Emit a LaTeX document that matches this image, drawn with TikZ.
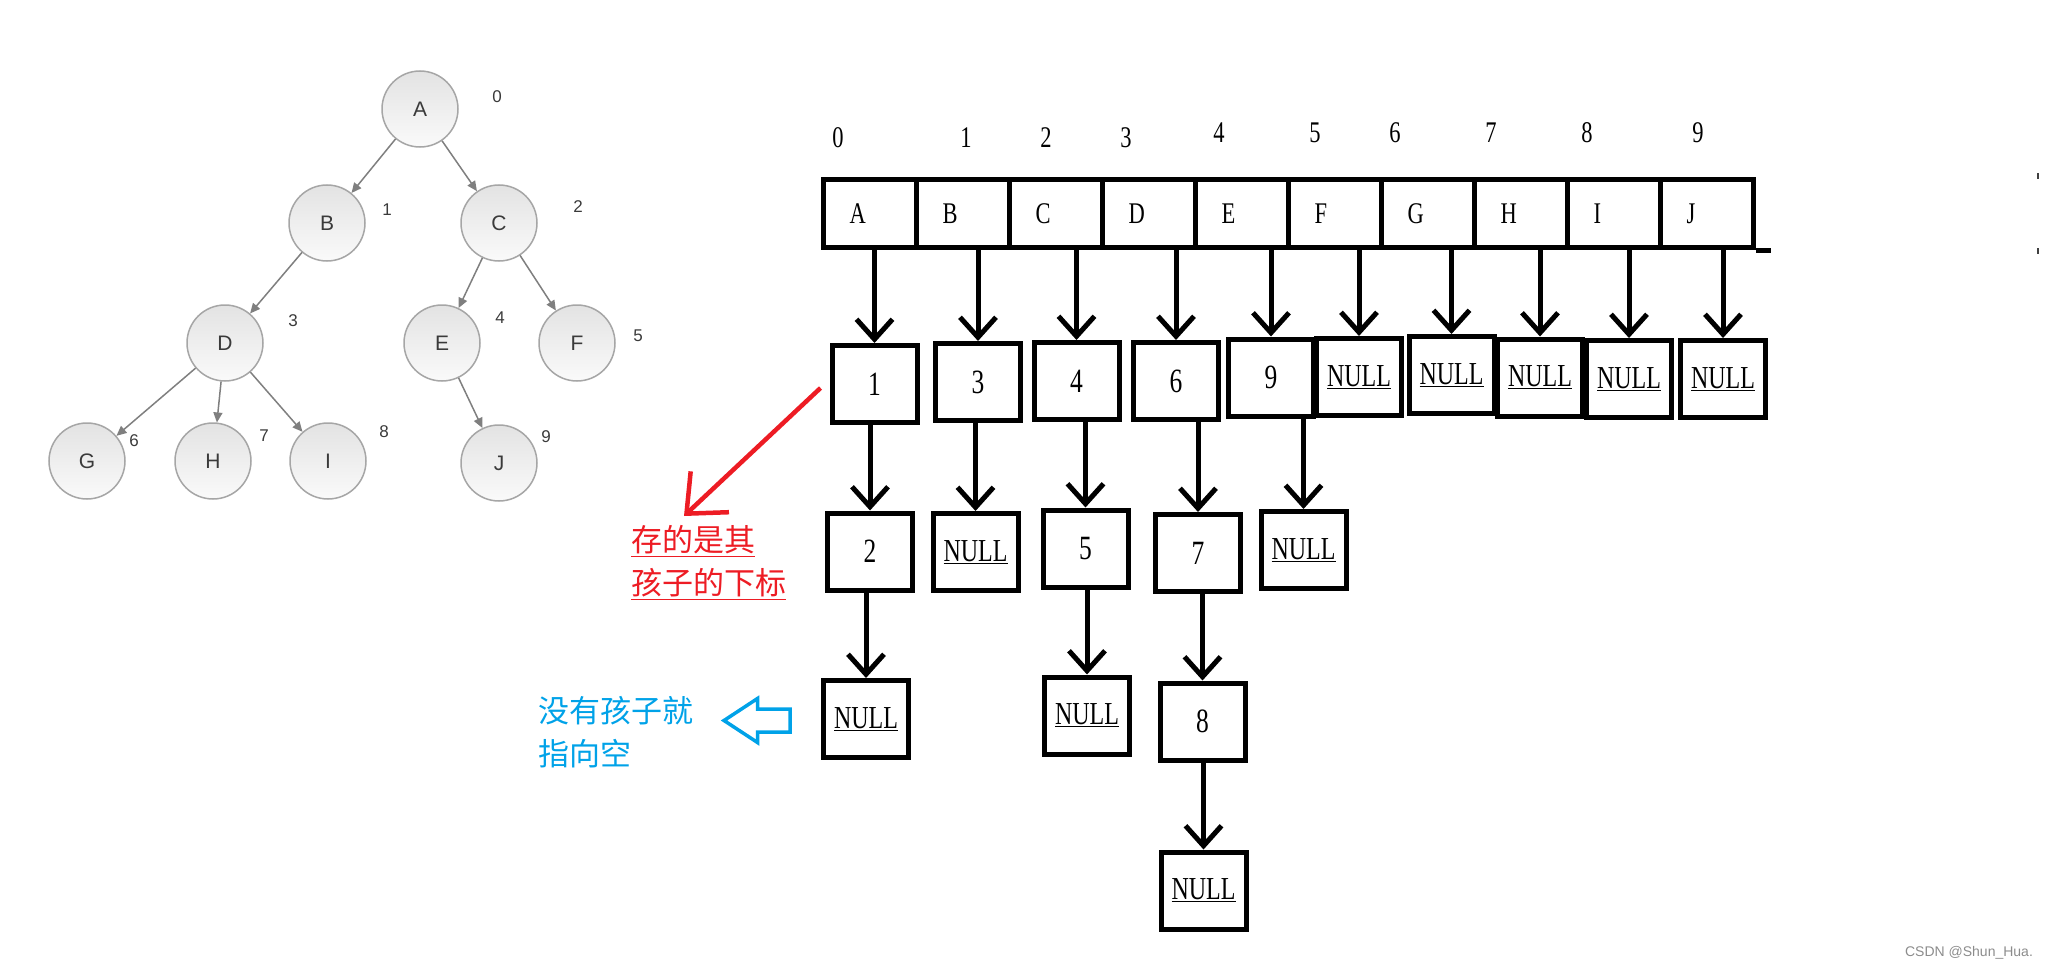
\documentclass[tikz,border=0pt]{standalone}
\usepackage{fontspec}
\setmainfont{Liberation Serif}[FakeStretch=0.75]
\setsansfont{Liberation Sans}
\newfontfamily\cjk{Noto Sans CJK SC}
\usetikzlibrary{arrows.meta,positioning}
\definecolor{paintred}{HTML}{ED1C24}
\definecolor{paintblue}{HTML}{00A2E8}
\definecolor{ringgray}{HTML}{A6A6A6}
\definecolor{treeink}{HTML}{3A3A3A}
\definecolor{edgegray}{HTML}{7F7F7F}
\tikzset{
  tnode/.style={circle, minimum size=76pt, inner sep=0pt, draw=ringgray, line width=1.5pt,
    top color=black!11, bottom color=black!2, text=treeink, font=\sffamily\fontsize{21}{21}\selectfont},
  tidx/.style={inner sep=0pt, text=treeink, font=\sffamily\fontsize{17}{17}\selectfont},
  tedge/.style={-{Triangle[length=10pt,width=9pt]}, line width=1.5pt, draw=edgegray},
  arraycell/.style={draw, line width=5pt, minimum width=93pt, minimum height=68pt, text width=41pt,
    align=left, inner sep=0pt, font=\fontsize{30}{30}\selectfont},
  linkbox/.style={draw, line width=5pt, minimum width=85pt, minimum height=77pt, inner sep=0pt,
    font=\fontsize{34}{34}\selectfont},
  idx/.style={inner sep=0pt, font=\fontsize{30}{30}\selectfont},
  arr/.style={-{Straight Barb[length=20pt,width=36pt]}, line width=5pt},
  hint/.style={inner sep=0pt, align=left, anchor=north west, font=\cjk\fontsize{31}{43}\selectfont},
  redarr/.style={-{Straight Barb[length=32pt,width=56pt]}, line width=4.5pt, draw=paintred},
}
\newcommand{\nul}{{\fontsize{32}{32}\selectfont\underline{NULL}}}

\begin{document}
\begin{tikzpicture}[x=1pt,y=-1pt]
  \useasboundingbox (0,0) rectangle (2047,971);
  % the tree
  \node[tnode] (tA) at (420,109) {A};
  \node[tnode] (tB) at (327,223) {B};
  \node[tnode] (tC) at (499,223) {C};
  \node[tnode] (tD) at (225,343) {D};
  \node[tnode] (tE) at (442,343) {E};
  \node[tnode] (tF) at (577,343) {F};
  \node[tnode] (tG) at (87,461) {G};
  \node[tnode] (tH) at (213,461) {H};
  \node[tnode] (tI) at (328,461) {I};
  \node[tnode] (tJ) at (499,463) {J};
  \foreach \a/\b in {A/B,A/C,B/D,C/E,C/F,D/G,D/H,D/I,E/J}
    \draw[tedge] (t\a) -- (t\b);
  \foreach \n/\x/\y in {0/497/97, 1/387/210, 2/578/207, 3/293/321, 4/500/318,
                        5/638/336, 6/134/441, 7/264/436, 8/384/432, 9/546/437}
    \node[tidx] (ti\n) at (\x,\y) {\n};

  % the array
  \foreach \l [count=\i from 0] in {A,B,C,D,E,F,G,H,I,J}
    \node[arraycell] (c\i) at (870+93*\i,213.5) {\l};
  \draw[line width=5pt] (c9.south east) -- ++(15,0);
  \foreach \n/\x/\y in {0/838/138, 1/966/138, 2/1046/138, 3/1126/138, 4/1219/133,
                        5/1315/133, 6/1395/133, 7/1491/133, 8/1587/133, 9/1698/133}
    \node[idx] (n\n) at (\x,\y) {\n};

  % first child lists
  \node[linkbox] (p0) at (874.5,384) {1};
  \node[linkbox] (p1) at (978,382) {3};
  \node[linkbox] (p2) at (1076.5,381) {4};
  \node[linkbox] (p3) at (1176,381) {6};
  \node[linkbox] (p4) at (1271,377.5) {9};
  \node[linkbox] (p5) at (1359,377) {\nul};
  \node[linkbox] (p6) at (1451.5,375) {\nul};
  \node[linkbox] (p7) at (1540,377.5) {\nul};
  \node[linkbox] (p8) at (1629,379) {\nul};
  \node[linkbox] (p9) at (1723,379) {\nul};
  \foreach \i in {0,...,9}
    \draw[arr] (p\i.north |- c\i.south) -- (p\i.north);

  \node[linkbox] (q0) at (870,551.5) {2};
  \node[linkbox] (q1) at (975.5,552) {\nul};
  \node[linkbox] (q2) at (1085.5,548.5) {5};
  \node[linkbox] (q3) at (1198,553) {7};
  \node[linkbox] (q4) at (1303.5,550) {\nul};
  \foreach \i in {0,...,4}
    \draw[arr] (q\i.north |- p\i.south) -- (q\i.north);

  \node[linkbox] (r0) at (866,719) {\nul};
  \node[linkbox] (r2) at (1087,715.5) {\nul};
  \node[linkbox] (r3) at (1202.5,721.5) {8};
  \foreach \i in {0,2,3}
    \draw[arr] (r\i.north |- q\i.south) -- (r\i.north);

  \node[linkbox] (s3) at (1203.5,890.5) {\nul};
  \draw[arr] (s3.north |- r3.south) -- (s3.north);

  % notes
  \node[hint, text=paintred] (note) at (631,525.5) {\underline{存的是其}\\\underline{孩子的下标}};
  \coordinate (redtip) at (684,516);
  \draw[redarr] ([shift={(-9,4)}]p0.west) -- (redtip);

  \node[hint, text=paintblue] (nullnote) at (538,696.5) {没有孩子就\\指向空};
  \draw[paintblue, line width=3.5pt, line join=miter]
    (790,709) -- (757.5,709) -- (757.5,698.5) -- (724,720.5) -- (757.5,742.5) -- (757.5,732) -- (790,732) -- cycle;

  \draw[line width=1.5pt, black!75] (2038,173) -- (2038,179);
  \draw[line width=1.5pt, black!75] (2038,248) -- (2038,254);
  \node[inner sep=0pt, text=black!45, font=\sffamily\fontsize{14}{14}\selectfont] (mark) at (1969,953) {CSDN @Shun\_Hua.};
\end{tikzpicture}
\end{document}
